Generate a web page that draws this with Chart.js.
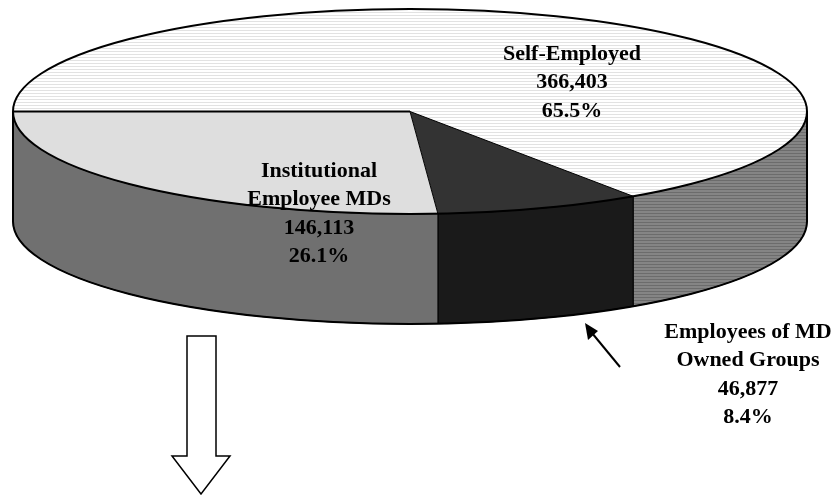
<!DOCTYPE html>
<html>
<head>
<meta charset="utf-8">
<style>html,body{margin:0;padding:0;background:#fff}canvas{display:block}</style>
<script src="https://cdn.jsdelivr.net/npm/chart.js@4"></script>
</head>
<body>
<canvas id="c" width="838" height="495"></canvas>
<script>
const categories = ['Self-Employed', 'Employees of MD Owned Groups', 'Institutional Employee MDs'];
const values = [366403, 46877, 146113];
const labelLines = [
  ['Self-Employed', '366,403', '65.5%'],
  ['Employees of MD', 'Owned Groups', '46,877', '8.4%'],
  ['Institutional', 'Employee MDs', '146,113', '26.1%']
];
const labelAnchors = [[572, 60], [748, 338], [319, 177]];
const LINE_STEP = 28.3;
const DISC = {cx: 410, cy: 111.5, rx: 397, ry: 102.5, depth: 110};

function stripes(bg, line, period, lineH) {
  const p = document.createElement('canvas');
  p.width = 4; p.height = period;
  const g = p.getContext('2d');
  g.fillStyle = bg; g.fillRect(0, 0, 4, period);
  g.fillStyle = line; g.fillRect(0, 0, 4, lineH);
  return g.createPattern(p, 'repeat');
}
const topPattern = stripes('#ffffff', '#e2e2e2', 3, 1);
const sidePattern = stripes('#858585', '#6c6c6c', 3, 1);
const topFills = [topPattern, '#333333', '#dedede'];
const sideFills = [sidePattern, '#1a1a1a', '#707070'];

const disc3d = {
  id: 'disc3d',
  beforeDatasetsDraw(chart) {
    const arcs = chart.getDatasetMeta(0).data;
    const ctx = chart.ctx;
    const {cx, cy, rx, ry, depth} = DISC;
    ctx.save();
    arcs.forEach((a, i) => {
      const ranges = [[a.startAngle, a.endAngle], [a.startAngle - 2 * Math.PI, a.endAngle - 2 * Math.PI]];
      ranges.forEach(([s, e]) => {
        const s2 = Math.max(s, 0), e2 = Math.min(e, Math.PI);
        if (e2 <= s2) return;
        ctx.beginPath();
        ctx.ellipse(cx, cy, rx, ry, 0, s2, e2);
        ctx.lineTo(cx + rx * Math.cos(e2), cy + ry * Math.sin(e2) + depth);
        ctx.ellipse(cx, cy + depth, rx, ry, 0, e2, s2, true);
        ctx.closePath();
        ctx.fillStyle = sideFills[i];
        ctx.fill();
        ctx.strokeStyle = '#000';
        ctx.lineWidth = 1;
        ctx.stroke();
      });
    });
    ctx.beginPath();
    ctx.moveTo(cx - rx, cy);
    ctx.lineTo(cx - rx, cy + depth);
    ctx.ellipse(cx, cy + depth, rx, ry, 0, Math.PI, 0, true);
    ctx.lineTo(cx + rx, cy);
    ctx.lineWidth = 2;
    ctx.stroke();
    ctx.restore();
    const a0 = arcs[0], R = a0.outerRadius;
    const sx = rx / R, sy = ry / R;
    topPattern.setTransform(new DOMMatrix().scale(1 / sx, 1 / sy).translate(-cx + a0.x * sx, -cy + a0.y * sy));
    ctx.save();
    ctx.translate(cx, cy);
    ctx.scale(sx, sy);
    ctx.translate(-a0.x, -a0.y);
  },
  afterDatasetsDraw(chart) {
    const ctx = chart.ctx;
    ctx.restore();
    const arcs = chart.getDatasetMeta(0).data;
    const {cx, cy, rx, ry} = DISC;
    ctx.save();
    ctx.strokeStyle = '#000';
    arcs.forEach((a, i) => {
      const ex = cx + rx * Math.cos(a.endAngle), ey = cy + ry * Math.sin(a.endAngle);
      ctx.beginPath();
      ctx.moveTo(cx, cy);
      ctx.lineTo(ex, ey);
      ctx.lineWidth = i === 2 ? 2 : 1;
      ctx.stroke();
    });
    ctx.beginPath();
    ctx.ellipse(cx, cy, rx, ry, 0, 0, 2 * Math.PI);
    ctx.lineWidth = 2;
    ctx.stroke();
    ctx.restore();
  },
  afterDraw(chart) {
    const ctx = chart.ctx;
    ctx.save();
    ctx.strokeStyle = '#000';
    ctx.fillStyle = '#000';
    ctx.lineWidth = 2;
    ctx.beginPath(); ctx.moveTo(620, 367); ctx.lineTo(592, 333); ctx.stroke();
    ctx.beginPath(); ctx.moveTo(585, 323); ctx.lineTo(598, 331); ctx.lineTo(588, 340); ctx.closePath(); ctx.fill();
    ctx.lineWidth = 1.5;
    ctx.beginPath();
    ctx.moveTo(187, 336); ctx.lineTo(216, 336); ctx.lineTo(216, 456); ctx.lineTo(230, 456);
    ctx.lineTo(201, 494); ctx.lineTo(172, 456); ctx.lineTo(187, 456); ctx.closePath();
    ctx.fillStyle = '#fff'; ctx.fill(); ctx.stroke();
    ctx.fillStyle = '#000';
    ctx.font = 'bold 22px "Liberation Serif", serif';
    ctx.textAlign = 'center';
    ctx.textBaseline = 'alphabetic';
    labelLines.forEach((lines, i) => {
      lines.forEach((t, j) => ctx.fillText(t, labelAnchors[i][0], labelAnchors[i][1] + j * LINE_STEP));
    });
    ctx.restore();
  }
};

new Chart(document.getElementById('c'), {
  type: 'pie',
  data: {labels: categories, datasets: [{data: values, backgroundColor: topFills, borderWidth: 0}]},
  options: {
    responsive: false,
    animation: false,
    rotation: 270,
    layout: {padding: 0},
    events: [],
    plugins: {legend: {display: false}, tooltip: {enabled: false}}
  },
  plugins: [disc3d]
});
</script>
</body>
</html>
